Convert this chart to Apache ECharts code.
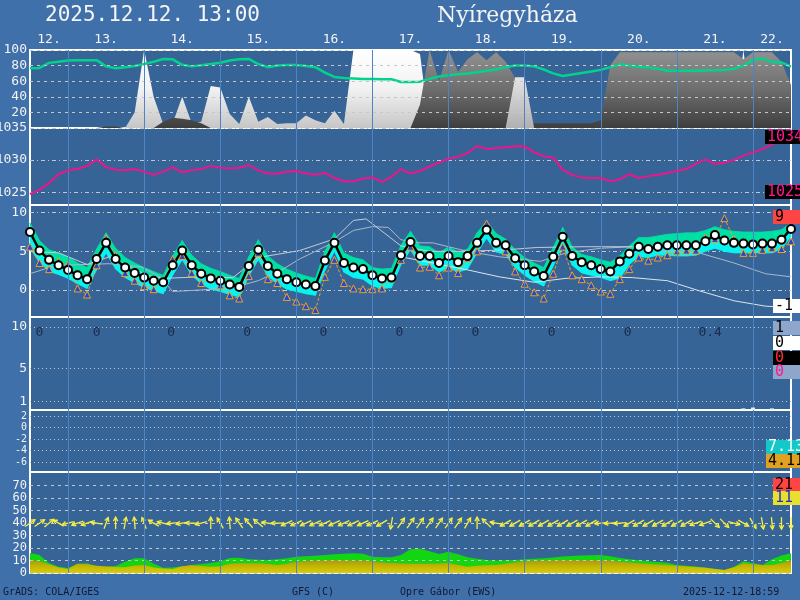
<!DOCTYPE html>
<html><head><meta charset="utf-8">
<script src="https://cdn.jsdelivr.net/npm/echarts@6/dist/echarts.min.js"></script>
<style>html,body{margin:0;padding:0;background:#4070a9;}#c{width:800px;height:600px;}</style>
</head><body><div id="c"></div>
<script>
// ---------- DATA (3-hourly steps from 12th 12:00) ----------
const STEP_H = 3;
const dayLabels = ['12.','13.','14.','15.','16.','17.','18.','19.','20.','21.','22.'];
const dayLabelHours = [6,24,48,72,96,120,144,168,192,216,234];
const midnightHours = [12,36,60,84,108,132,156,180,204,228];

const cloudTicks = [20,40,60,80,100];
const presTicks = [1025,1030,1035];
const tempTicks = [0,5,10];
const precTicks = [1,5,10];
const p5Ticks = [-6,-4,-2,0,2];
const windTicks = [0,10,20,30,40,50,60,70];

const cloudHigh = [0,0,0,0,0,0,0,0,0,0, 0,20,100,40,5,6,40,6,8,54, 52,18,5,40,8,14,5,6,6,16, 10,6,22,5,100,100,100,100,100,100, 100,95,0,0,0,0,0,0,0,0, 0,0,0,0,0,0,0,0,0,0, 0,0,0,0,0,0,0,0,0,0, 0,0,0,0,0,100,0,0,0,0, 0];
const cloudMid = [0,0,0,0,0,0,0,0,2,2, 0,0,0,0,8,13,12,10,6,0, 0,0,0,0,0,0,0,0,0,0, 0,0,0,0,0,0,0,0,0,0, 0,30,100,60,100,72,88,97,87,97, 85,64,10,6,6,6,6,6,6,6, 10,80,97,97,97,97,97,97,97,97, 97,97,97,97,97,88,97,97,97,85, 55];
const cloudLow = [0,0,0,0,0,0,0,0,0,0, 0,0,0,0,0,0,0,0,0,0, 0,0,0,0,0,0,0,0,0,0, 0,0,0,0,0,0,0,0,0,0, 0,0,0,0,0,0,0,0,0,0, 0,65,65,0,0,0,0,0,0,0, 0,0,0,0,0,0,0,0,0,0, 0,0,0,0,0,0,0,0,0,0, 0];
const relHum = [76.5,77,83.5,85,86.5,87,87,87,79,76.5, 78,79.5,82,85,88.5,88,81,79,80.5,82, 83.7,86.5,88,88.5,82,78,80,80.8,80.8,79.5, 78,71,65.5,64,63.5,62.8,62.7,62.6,62.4,59, 59,59.4,63,66,67.5,69,70,71.5,73.5,75, 78,80,80,79,75,70,66.7,68.5,70.5,72.5, 74.5,78,81.6,80,78.5,77.5,76,73.5,73.5,73.5, 73.5,73.8,74,74.5,75.8,80,87,89,84.5,84, 78.6];

const pressure = [1024.7,1025.4,1026.4,1027.8,1028.4,1028.6,1029.1,1030.1,1028.9,1028.5, 1028.4,1028.6,1028.2,1027.7,1028.2,1028.9,1028.1,1028.4,1028.6,1029.1, 1028.8,1028.7,1028.8,1029.2,1028.4,1027.9,1027.9,1028.2,1028.3,1027.9, 1027.7,1028.0,1027.2,1026.7,1026.7,1027.1,1027.3,1026.6,1027.4,1028.6, 1027.9,1028.3,1029.0,1029.6,1030.2,1030.5,1031.1,1032.2,1031.7,1031.9, 1032.0,1032.2,1032.1,1031.2,1030.6,1030.4,1028.5,1027.7,1027.3,1027.2, 1027.2,1026.7,1027.0,1027.8,1027.2,1027.5,1027.7,1028.0,1028.3,1028.6, 1029.4,1030.1,1029.4,1029.6,1030.0,1030.7,1031.2,1031.7,1032.4,1033.2, 1034.0];

const tempMean = [7.5,5.1,3.9,3.2,2.6,1.9,1.4,4.0,6.1,4.0, 2.9,2.2,1.6,1.2,1.0,3.2,5.1,3.2,2.1,1.5, 1.2,0.7,0.4,3.1,5.2,3.1,2.1,1.4,1.0,0.7, 0.5,3.8,6.1,3.5,2.9,2.7,1.9,1.5,1.6,4.5, 6.2,4.4,4.4,3.5,4.4,3.6,4.4,6.1,7.8,6.1, 5.8,4.1,3.2,2.4,1.8,4.3,6.9,4.4,3.6,3.2, 2.7,2.4,3.7,4.7,5.6,5.3,5.6,5.8,5.8,5.8, 5.8,6.3,7.1,6.4,6.1,6.0,5.9,6.0,6.0,6.5, 7.9];
const tempHi = [8.7,6.4,5.2,4.8,4.3,3.5,2.9,5.3,7.4,5.4, 4.2,3.5,2.9,2.4,1.9,4.4,6.4,4.5,3.4,2.8, 2.4,1.9,1.5,4.3,6.5,4.4,3.4,2.7,2.2,1.8, 1.5,5.0,7.4,4.8,4.2,3.9,2.9,2.7,2.8,5.8, 7.6,5.7,5.6,4.8,5.6,4.9,5.3,7.4,8.9,7.3, 6.6,5.2,4.2,3.5,2.9,5.5,8.1,5.6,4.6,4.3, 3.9,3.6,4.4,5.7,6.8,6.8,7.0,7.2,7.3,7.4, 7.4,7.7,8.2,7.8,7.6,7.5,7.5,7.5,7.6,7.8, 8.7];
const tempLo = [5.4,3.6,2.4,2.0,1.5,0.8,0.2,2.6,4.8,2.7, 1.6,0.9,0.3,-0.1,-0.5,1.9,3.9,1.9,0.8,0.1, -0.2,-0.6,-0.9,1.8,3.9,1.8,0.8,0.1,-0.2,-0.5, -0.7,2.5,5.0,2.3,1.6,1.4,0.5,0.2,0.3,3.3, 5.2,3.2,3.2,2.3,2.9,2.3,2.7,4.8,6.7,4.9, 4.6,2.9,1.9,1.1,0.5,3.1,5.8,3.2,2.2,1.9, 1.6,1.2,1.5,3.3,4.3,4.2,4.5,4.5,4.4,4.4, 4.5,5.0,5.4,5.0,4.8,4.8,4.8,4.8,4.8,5.3, 6.9];
const tempOper = [5.6,3.5,2.7,3.7,3.3,0.2,-0.6,3.2,6.7,4.5, 2.2,1.2,0.5,0.1,1.1,4.0,4.4,2.2,0.9,1.7, 0.6,-0.7,-1.1,1.8,4.8,1.4,0.9,-0.9,-1.5,-2.1, -2.6,1.7,3.9,0.9,0.2,0.1,0.1,0.2,1.5,3.9, 5.6,2.9,3.0,1.9,2.9,2.2,4.1,5.0,8.6,6.1, 5.0,2.4,0.8,-0.3,-1.1,2.1,5.6,1.9,1.4,0.6, -0.2,-0.5,1.4,2.7,4.2,3.8,4.2,4.5,5.0,5.1, 5.1,6.8,6.6,9.3,6.6,4.8,4.8,5.2,5.4,5.3, 6.3];
// other model curves: [hour, value]
const grayLine1 = [[0,2.1],[6,2.9],[10,3.2],[25,3.4],[35,3.0],[41,1.7],[45,-0.2],[54,0.0],[64,0.3],[72,1.2],[79,2.5],[85,4.0],[96,6.2],[102,7.7],[108,8.2],[113,8.1],[117,6.5],[123,6.1],[127,6.1],[138,5.0],[148,4.3],[161,3.7],[169,4.8],[180,5.4],[190,5.6],[201,5.0],[211,4.8],[222,3.5],[232,2.1],[240,1.7]];
const grayLine2 = [[0,5.0],[9,4.8],[18,3.3],[25,4.3],[37,1.9],[42,1.5],[54,1.7],[64,1.6],[72,4.2],[85,5.1],[96,6.6],[102,9.0],[106,9.2],[117,5.7],[126,5.0],[138,5.0],[150,5.2],[160,5.5],[175,5.6],[190,5.6]];
const grayLine3 = [[117,4.3],[138,2.6],[148,1.7],[159,1.0],[169,1.5],[180,1.7],[190,1.6],[201,1.2],[211,-0.1],[222,-1.4],[232,-2.1],[237,-2.2]];

const precip = [0,0,0,0,0,0,0,0,0,0, 0,0,0,0,0,0,0,0,0,0, 0,0,0,0,0,0,0,0,0,0, 0,0,0,0,0,0,0,0,0,0, 0,0,0,0,0,0,0,0,0,0, 0,0,0,0,0,0,0,0,0,0, 0,0,0,0,0,0,0,0,0,0, 0,0,0,0,0,0.2,0.3,0,0.2,0, 0];
const dailyPrecipHours = [3,21,44.5,68.5,92.5,116.5,140.5,164.5,188.5,214.5];
const dailyPrecip = ['0','0','0','0','0','0','0','0','0','0.4'];

const gust = [16,14.5,8,5,4,7.5,7.8,5.5,5.2,5.6, 9,11.8,11.8,7.5,4.2,4.5,5.5,6.5,7.2,8, 9.5,12,12.2,11,10.6,10.5,11,11.8,13,13.5, 13.9,14.5,15,15.5,15.8,15.5,13,12.6,12.6,14.5, 19,19.5,17.5,15.3,17,15,12.6,11.5,10.5,10, 10.2,10.5,11,11.5,11.8,12.5,13.3,13.7,14,14.2, 14.5,13.5,12,11,10.3,9.5,8.8,8.3,6.5,5.8, 5.2,4.5,3.5,2.4,5,9.5,8,6.4,11,14, 15.8];
const wind = [10.5,9.5,7,4.5,3.2,7.5,7,5.8,5.2,4.8, 4.6,6,6.4,4.5,3.6,3.3,5.5,6.2,5.6,5.1, 5.5,7.5,7.8,7.8,7.8,7.2,6.5,7.5,9,9.5, 10,10.3,10.5,10.3,10.1,10,9.5,8.5,8,7.6, 7.4,7.4,7.4,7.6,8,6.5,5.1,5.8,6.2,6.4, 7.5,8.5,9.5,9.9,10,10.2,10.5,10.5,10.5,10.5, 10.5,10,9,8.5,7.8,7.2,6.8,6.4,5.8,5.2, 4.8,4.2,3.2,2.4,4.6,7.8,7,6.4,6.4,8, 10.5];
// arrow pointing direction, degrees counter-clockwise from east
const windDir = [35,35,40,150,195,200,200,170,70,90, 80,95,110,150,165,185,190,180,195,90, 120,95,125,130,140,170,180,205,205,205, 205,205,205,205,205,205,205,210,260,55, 55,55,55,55,55,55,60,90,135,170, 210,210,210,210,210,210,210,210,210,210, 185,185,185,210,210,210,210,210,210,210, 200,200,315,315,345,330,300,280,275,270, 270];

const sideLabels = [
  {text:'1034', y:137, x:765, bg:'#000000', fg:'#ff1a8c'},
  {text:'1025', y:192, x:765, bg:'#000000', fg:'#ff1a8c'},
  {text:'9', y:217, x:773, bg:'#ff4444', fg:'#000000'},
  {text:'-1', y:306, x:773, bg:'#ffffff', fg:'#000000'},
  {text:'1', y:328, x:773, bg:'#8ea6cc', fg:'#000000'},
  {text:'0', y:343, x:773, bg:'#ffffff', fg:'#000000'},
  {text:'0', y:358, x:773, bg:'#000000', fg:'#ff3030'},
  {text:'0', y:372, x:773, bg:'#8ea6cc', fg:'#ff1a8c'},
  {text:'7.13', y:447, x:766, bg:'#14c8c8', fg:'#ffffff'},
  {text:'4.11', y:461, x:766, bg:'#e0a020', fg:'#000000'},
  {text:'21', y:485, x:773, bg:'#ff4444', fg:'#000000'},
  {text:'11', y:498, x:773, bg:'#e8e030', fg:'#2030c0'}
];

// ---------- CHART ----------
const MONO = '"DejaVu Sans Mono", monospace';
const PLOT_BG = '#376497';
const GRID_C = '#c4c8cc';
const DAY_C = '#4e84c6';
const ts = arr => arr.map((v,i)=>[i*STEP_H, v]);
const grids = [
  {top:50,height:78},{top:128,height:77},{top:205,height:112},
  {top:317,height:93},{top:410,height:62},{top:472,height:101}
].map(g=>Object.assign({left:30,width:761,show:true,containLabel:false,outerBoundsMode:'none',
  backgroundColor:PLOT_BG,borderColor:'#ffffff',borderWidth:2}, g));

const xAxes = grids.map((g,i)=>({
  type:'value', gridIndex:i, min:0, max:240, position: i===0?'top':'bottom',
  axisLine:{show:false},
  axisTick:{show:false, customValues: midnightHours},
  splitLine:{show:true, lineStyle:{color:DAY_C, width:1}},
  axisLabel: i===0 ? {show:true, customValues: dayLabelHours, margin:4, color:'#f4f4f4', fontFamily:MONO, fontSize:13,
     hideOverlap:false, showMinLabel:true, showMaxLabel:true,
     formatter: v => dayLabels[dayLabelHours.indexOf(v)] || ''} : {show:false}
}));

function yAx(i, min, max, ticks, dash, fs){
  return {type:'value', gridIndex:i, min:min, max:max,
    axisLine:{show:false},
    axisTick:{show:false, customValues:ticks},
    axisLabel:{show:true, customValues:ticks, color:'#f2f2f2', fontFamily:MONO, fontSize:fs||13, margin:3,
      hideOverlap:false, showMinLabel:true, showMaxLabel:true, formatter: v => String(v)},
    splitLine:{show:true, lineStyle:{color:GRID_C, width:1, type:dash}}
  };
}
const yAxes = [
  yAx(0, 0, 100, cloudTicks, [3,4]),
  yAx(1, 1023, 1035, presTicks, [4,3,1,3]),
  yAx(2, -3.5, 11, tempTicks, [4,3,1,3]),
  yAx(3, 0, 11.2, precTicks, [1,3]),
  yAx(4, -7.74, 3.04, p5Ticks, [1,3], 10),
  yAx(5, 0, 81, windTicks, [3,4], 12)
];

const grad = (stops) => ({type:'linear', x:0, y:0, x2:0, y2:1, colorStops: stops.map((c,k)=>({offset:k/(stops.length-1), color:c}))});
const area = (name, data, color, xi, extra) => Object.assign({
  name, type:'line', xAxisIndex:xi, yAxisIndex:xi, data: ts(data), symbol:'none',
  lineStyle:{width:0}, areaStyle:{color:color, opacity:1}, silent:true, animation:false
}, extra||{});
// grid lines repeated above filled areas
const overLines = (yVals, dash) => ({silent:true, symbol:'none', animation:false, label:{show:false},
  data: yVals.map(v=>({yAxis:v, lineStyle:{color:GRID_C, width:1, type:dash}}))
    .concat(midnightHours.map(h=>({xAxis:h, lineStyle:{color:DAY_C, width:1, type:'solid'}})))});

// ensemble band as segments between consecutive steps
const bandData = tempMean.slice(0,-1).map((m,i)=>[i*STEP_H, tempLo[i], m, tempHi[i], (i+1)*STEP_H, tempLo[i+1], tempMean[i+1], tempHi[i+1]]);

const series = [
  // clouds
  area('high', cloudHigh, grad(['#ffffff','#f2f2f2','#c6c6c6']), 0),
  area('mid', cloudMid, grad(['#929292','#6e6e6e','#3e3e3e']), 0),
  area('low', cloudLow, grad(['#e4e4e4','#b0b0b0']), 0,
       {markLine: overLines([20,40,60,80], [3,4])}),
  {name:'rh', type:'line', xAxisIndex:0, yAxisIndex:0, data:ts(relHum), symbol:'none',
   lineStyle:{color:'#00d48c', width:2.5}, animation:false},
  // pressure
  {name:'p', type:'line', xAxisIndex:1, yAxisIndex:1, data:ts(pressure), symbol:'none',
   lineStyle:{color:'#f0148c', width:2}, animation:false},
  // temperature ensemble band
  {name:'band', type:'custom', xAxisIndex:2, yAxisIndex:2, animation:false, silent:true,
   data: bandData, encode:{x:[0,4], y:[1,3,5,7]},
   renderItem: function(params, api){
     const h0 = api.value(0), h1 = api.value(4);
     const c = (h,v)=>api.coord([h,v]);
     const lo0=c(h0,api.value(1)), m0=c(h0,api.value(2)), hi0=c(h0,api.value(3));
     const lo1=c(h1,api.value(5)), m1=c(h1,api.value(6)), hi1=c(h1,api.value(7));
     return {type:'group', children:[
       {type:'polygon', shape:{points:[lo0,m0,m1,lo1]}, style:{fill:'#08f4f0', stroke:'#08f4f0', lineWidth:0.8}},
       {type:'polygon', shape:{points:[m0,hi0,hi1,m1]}, style:{fill:'#00e0a4', stroke:'#00e0a4', lineWidth:0.8}}
     ]};
   }},
  {name:'g1', type:'line', xAxisIndex:2, yAxisIndex:2, data:grayLine1, symbol:'none', lineStyle:{color:'#a9b7cb', width:1}, animation:false,
   markLine: overLines([], [4,3,1,3])},
  {name:'g2', type:'line', xAxisIndex:2, yAxisIndex:2, data:grayLine2, symbol:'none', lineStyle:{color:'#c2ccd8', width:1}, animation:false},
  {name:'g3', type:'line', xAxisIndex:2, yAxisIndex:2, data:grayLine3, symbol:'none', lineStyle:{color:'#dde4ec', width:1}, animation:false},
  {name:'oper', type:'line', xAxisIndex:2, yAxisIndex:2, data:ts(tempOper), symbol:'triangle', symbolSize:7,
   itemStyle:{color:'#2448d0', borderColor:'#f0a020', borderWidth:1},
   lineStyle:{color:'#f0a020', width:1, type:[3,2]}, animation:false},
  {name:'mean', type:'line', xAxisIndex:2, yAxisIndex:2, data:ts(tempMean), symbol:'circle', symbolSize:8,
   itemStyle:{color:'#ffffff', borderColor:'#000000', borderWidth:2},
   lineStyle:{color:'#000000', width:2.5}, animation:false},
  // precipitation
  {name:'pr', type:'bar', xAxisIndex:3, yAxisIndex:3, data:ts(precip), barWidth:4,
   itemStyle:{color:'#e8ecf4'}, animation:false},
  {name:'prDaily', type:'custom', xAxisIndex:3, yAxisIndex:3, animation:false, silent:true,
   data: dailyPrecipHours.map(h=>[h, 9.3]),
   renderItem: function(params, api){
     const c = api.coord([api.value(0), api.value(1)]);
     return {type:'text', x:c[0], y:c[1],
       style:{text: dailyPrecip[params.dataIndex], fill:'#1a2a4c', font:'13px '+MONO,
              align:'center', verticalAlign:'middle', textAlign:'center', textVerticalAlign:'middle'}};
   }},
  // wind
  area('gust', gust, '#12d612', 5),
  area('wind', wind, grad(['#a49a10','#c4b600','#d6cc10']), 5,
       {markLine: overLines([10,20], [3,4])}),
  {name:'dir', type:'custom', xAxisIndex:5, yAxisIndex:5, animation:false,
   data: windDir.map((d,i)=>[i*STEP_H, 40, d]),
   renderItem: function(params, api){
     const c = api.coord([api.value(0), api.value(1)]);
     const a = api.value(2) * Math.PI / 180;
     const L = 12, dx = Math.cos(a), dy = -Math.sin(a);
     const x0 = c[0]-dx*L/2, y0 = c[1]-dy*L/2, x1 = c[0]+dx*L/2, y1 = c[1]+dy*L/2;
     const h = 4.5, s = 0.5;
     const r = (ang)=>[dx*Math.cos(ang)-dy*Math.sin(ang), dx*Math.sin(ang)+dy*Math.cos(ang)];
     const v1 = r(s), v2 = r(-s);
     return {type:'group', children:[
       {type:'line', shape:{x1:x0,y1:y0,x2:x1,y2:y1}, style:{stroke:'#f6ee40', lineWidth:1.3}},
       {type:'polyline', shape:{points:[[x1-h*v1[0], y1-h*v1[1]],[x1,y1],[x1-h*v2[0], y1-h*v2[1]]]}, style:{stroke:'#f6ee40', lineWidth:1.3, fill:null}}
     ]};
   }}
];

const graphic = [
  {type:'text', left:45, top:5, style:{text:'2025.12.12. 13:00', fill:'#f4f4f4', font:'21px '+MONO}},
  {type:'text', left:437, top:5, style:{text:'Nyíregyháza', fill:'#f4f4f4', font:'22px "DejaVu Serif", serif'}},
  {type:'text', left:3, top:587, style:{text:'GrADS: COLA/IGES', fill:'#0e1836', font:'10px '+MONO}},
  {type:'text', left:292, top:587, style:{text:'GFS (C)', fill:'#0e1836', font:'10px '+MONO}},
  {type:'text', left:400, top:587, style:{text:'Opre Gábor (EWS)', fill:'#0e1836', font:'10px '+MONO}},
  {type:'text', left:683, top:587, style:{text:'2025-12-12-18:59', fill:'#0e1836', font:'10px '+MONO}}
];
sideLabels.forEach(l=>{
  graphic.push({type:'rect', shape:{x:l.x, y:l.y-7, width:800-l.x, height:14}, style:{fill:l.bg}, z:100});
  graphic.push({type:'text', x:l.x+2, y:l.y, style:{text:l.text, fill:l.fg, font:'15px '+MONO, textVerticalAlign:'middle'}, z:101});
});

const chart = echarts.init(document.getElementById('c'), null, {renderer:'canvas'});
chart.setOption({
  backgroundColor:'#4070a9', animation:false,
  grid: grids, xAxis: xAxes, yAxis: yAxes, series: series, graphic: graphic
});
</script></body></html>
